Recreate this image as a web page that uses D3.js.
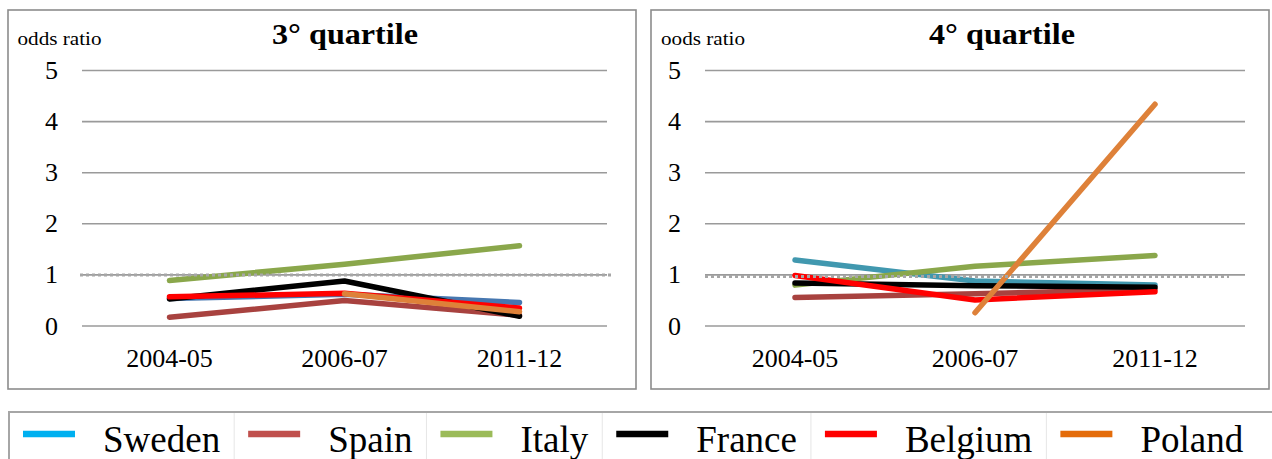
<!DOCTYPE html>
<html>
<head>
<meta charset="utf-8">
<script src="https://cdn.jsdelivr.net/npm/d3@7/dist/d3.min.js"></script>
<style>
  html, body { margin: 0; padding: 0; background: #fff; }
  svg { display: block; }
</style>
</head>
<body>
<svg id="chart" width="1272" height="459"></svg>
<script>
// ---- data ----
const periods = ["2004-05", "2006-07", "2011-12"];
const countries = ["Sweden", "Spain", "Italy", "France", "Belgium", "Poland"];
const yTicks = [0, 1, 2, 3, 4, 5];

// odds ratios, 3rd income quartile
const q3Sweden  = [0.54, 0.62, 0.46];
const q3Spain   = [0.17, 0.50, 0.21];
const q3Italy   = [0.89, 1.21, 1.57];
const q3France  = [0.53, 0.88, 0.19];
const q3Belgium = [0.57, 0.64, 0.35];
const q3Poland  = [null, 0.63, 0.28];

// odds ratios, 4th income quartile
const q4Sweden  = [1.29, 0.88, 0.80];
const q4Spain   = [0.56, 0.63, 0.72];
const q4Italy   = [0.80, 1.17, 1.38];
const q4France  = [0.84, 0.79, 0.76];
const q4Belgium = [0.99, 0.51, 0.67];
const q4Poland  = [null, 0.26, 4.34];

const q3Reference = 1.0;
const q4Reference = 0.97;

// ---- styles ----
const FONT = '"Liberation Serif"';
const legendColors = {
  Sweden: "#00B0F0", Spain: "#C0504D", Italy: "#9BBB59",
  France: "#000000", Belgium: "#FF0000", Poland: "#E46C0A"
};
const q3LineColors = {
  Sweden: "#4677B0", Spain: "#A8423F", Italy: "#8AA74B",
  France: "#000000", Belgium: "#FF0000", Poland: "#DE8139"
};
const q4LineColors = {
  Sweden: "#4198AF", Spain: "#A8423F", Italy: "#8AA74B",
  France: "#000000", Belgium: "#FF0000", Poland: "#DE8139"
};

const svg = d3.select("#chart");

function drawPanel(cfg) {
  const g = svg.append("g");

  // panel frame
  g.append("rect")
    .attr("x", cfg.box[0]).attr("y", cfg.box[1])
    .attr("width", cfg.box[2]).attr("height", cfg.box[3])
    .attr("fill", "#fff").attr("stroke", "#8C8C8C").attr("stroke-width", 1.6);

  const x = d3.scaleBand().domain(periods).range([cfg.x0, cfg.x1]).padding(0);
  const y = d3.scaleLinear().domain([0, 5]).range([326, 70.5]);
  const cx = d => x(d) + x.bandwidth() / 2;

  // horizontal gridlines
  g.append("g").selectAll("line").data(yTicks).join("line")
    .attr("x1", cfg.x0).attr("x2", cfg.x1)
    .attr("y1", d => y(d)).attr("y2", d => y(d))
    .attr("stroke", "#9A9A9A").attr("stroke-width", 1.6);

  // y tick labels
  g.append("g").selectAll("text").data(yTicks).join("text")
    .attr("x", cfg.x0 - 24).attr("y", d => y(d) + 8.5)
    .attr("text-anchor", "end").style("font-family", FONT)
    .attr("font-size", 26).attr("fill", "#000")
    .text(d => d);

  // x category labels
  g.append("g").selectAll("text").data(periods).join("text")
    .attr("x", d => cx(d)).attr("y", 366.5)
    .attr("text-anchor", "middle").style("font-family", FONT)
    .attr("font-size", 26).attr("fill", "#000")
    .text(d => d);

  // axis caption
  g.append("text")
    .attr("x", cfg.captionX).attr("y", 44.5)
    .style("font-family", FONT).attr("font-size", 18).attr("fill", "#000")
    .attr("textLength", 84).attr("lengthAdjust", "spacingAndGlyphs")
    .text(cfg.caption);

  // panel title
  g.append("text")
    .attr("x", cfg.titleX).attr("y", 43.5)
    .attr("text-anchor", "middle").style("font-family", FONT)
    .attr("font-size", 30).attr("font-weight", "bold")
    .attr("fill", "#000")
    .attr("textLength", 146).attr("lengthAdjust", "spacingAndGlyphs")
    .text(cfg.title);

  // country series
  const line = d3.line()
    .defined(d => d.v !== null)
    .x(d => cx(d.p)).y(d => y(d.v));

  countries.forEach(c => {
    const pts = periods.map((p, i) => ({ p, v: cfg.series[c][i] }));
    g.append("path")
      .datum(pts)
      .attr("d", line)
      .attr("fill", "none")
      .attr("stroke", cfg.colors[c])
      .attr("stroke-width", 5.5)
      .attr("stroke-linecap", "round")
      .attr("stroke-linejoin", "round");
  });

  // dotted reference line at odds ratio ~1
  g.append("line")
    .attr("x1", cfg.refX0).attr("x2", cfg.refX1)
    .attr("y1", y(cfg.ref)).attr("y2", y(cfg.ref))
    .attr("stroke", "#A6A6A6").attr("stroke-width", 3)
    .attr("stroke-dasharray", "3,3");
}

drawPanel({
  box: [8, 10, 628, 379],
  x0: 82, x1: 607,
  caption: "odds ratio", captionX: 17.5,
  title: "3° quartile", titleX: 345,
  ref: q3Reference, refX0: 80, refX1: 611,
  colors: q3LineColors,
  series: { Sweden: q3Sweden, Spain: q3Spain, Italy: q3Italy,
            France: q3France, Belgium: q3Belgium, Poland: q3Poland }
});

drawPanel({
  box: [651, 10, 618, 379],
  x0: 705, x1: 1245,
  caption: "oods ratio", captionX: 661,
  title: "4° quartile", titleX: 1002,
  ref: q4Reference, refX0: 705, refX1: 1229,
  colors: q4LineColors,
  series: { Sweden: q4Sweden, Spain: q4Spain, Italy: q4Italy,
            France: q4France, Belgium: q4Belgium, Poland: q4Poland }
});

// ---- legend ----
const lg = svg.append("g");
lg.append("rect")
  .attr("x", 9).attr("y", 412).attr("width", 1275).attr("height", 60)
  .attr("fill", "#fff").attr("stroke", "#A6A6A6").attr("stroke-width", 2);

let lx = 23;
const swatchW = 52, swatchGap = 28, itemGap = 28;
countries.forEach((c, i) => {
  lg.append("line")
    .attr("x1", lx).attr("x2", lx + swatchW)
    .attr("y1", 434).attr("y2", 434)
    .attr("stroke", legendColors[c]).attr("stroke-width", 6.5);
  const t = lg.append("text")
    .attr("x", lx + swatchW + swatchGap).attr("y", 451.5)
    .style("font-family", FONT).attr("font-size", 37).attr("fill", "#000")
    .text(c);
  const tw = t.node().getComputedTextLength();
  const end = lx + swatchW + swatchGap + tw;
  if (i < countries.length - 1) {
    lg.append("line")
      .attr("x1", end + itemGap / 2).attr("x2", end + itemGap / 2)
      .attr("y1", 413).attr("y2", 459)
      .attr("stroke", "#E6E6E6").attr("stroke-width", 1);
  }
  lx = end + itemGap;
});
</script>
</body>
</html>
